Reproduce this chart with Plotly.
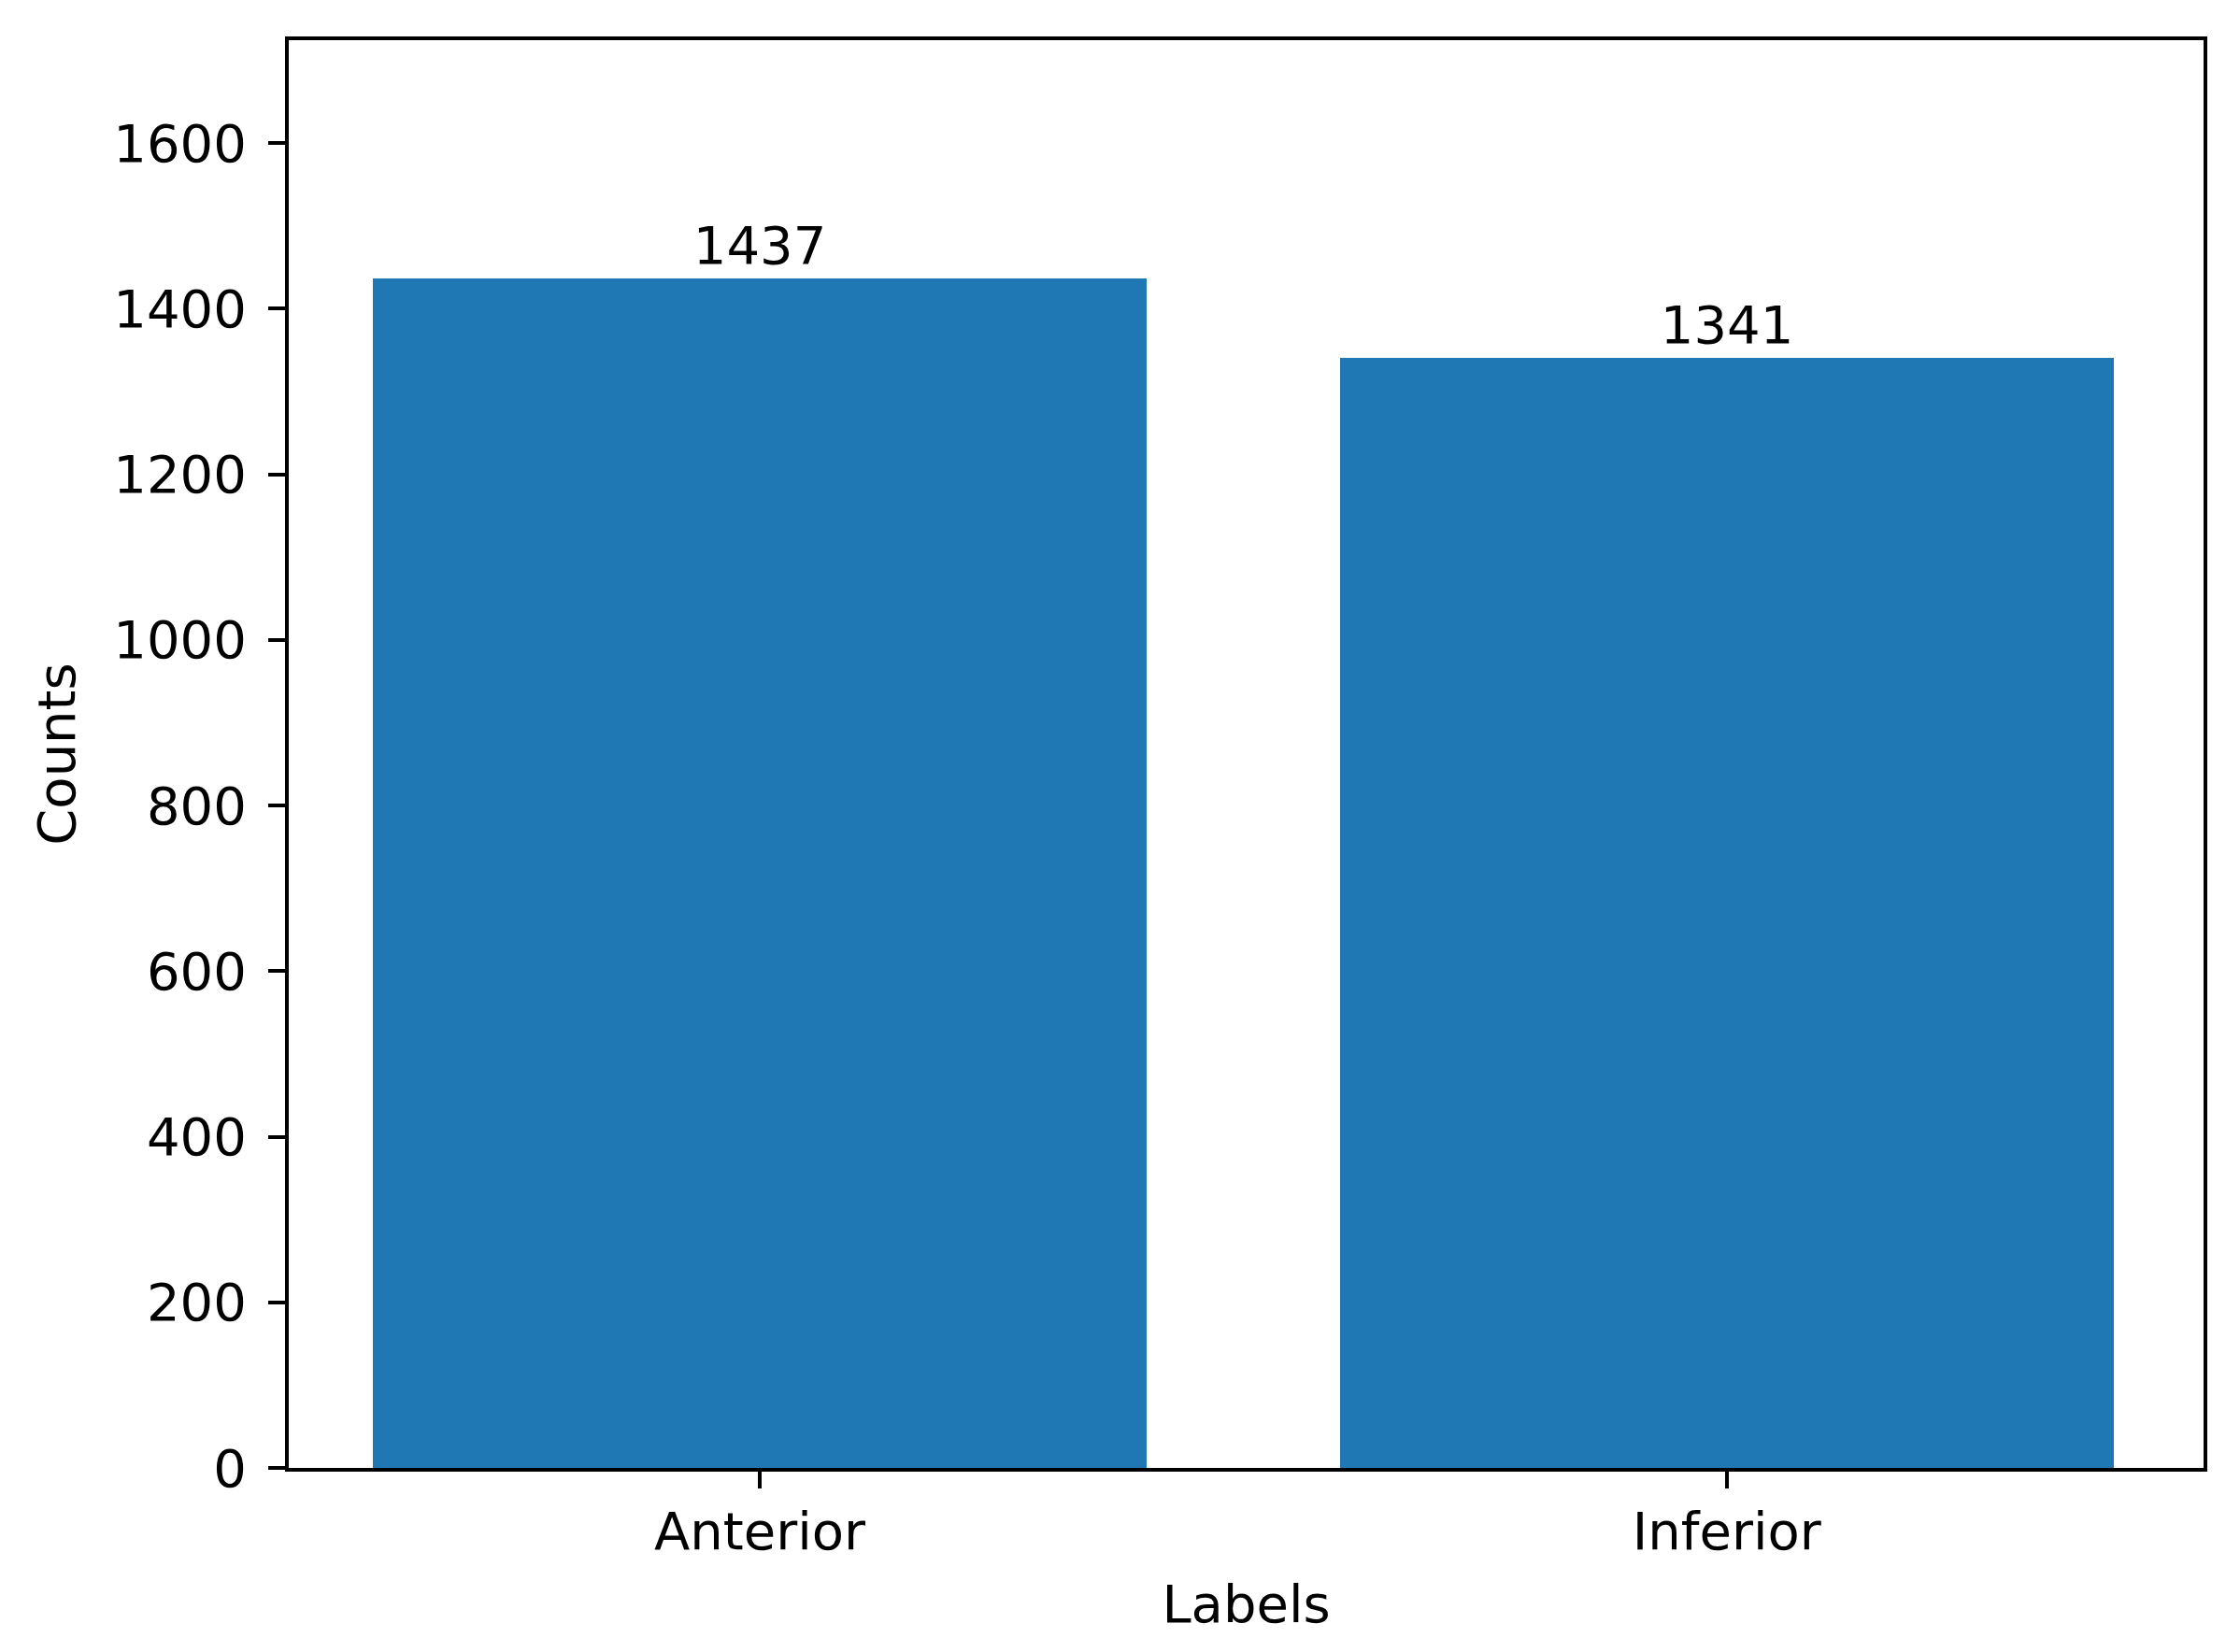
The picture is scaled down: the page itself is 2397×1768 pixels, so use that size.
import plotly.graph_objects as go

categories = ["Anterior", "Inferior"]
counts = [1437, 1341]
y_ticks = [0, 200, 400, 600, 800, 1000, 1200, 1400, 1600]

FONT = "DejaVu Sans"
FS = 56

fig = go.Figure()
fig.add_trace(go.Bar(
    x=[0, 1],
    y=counts,
    width=0.8,
    marker=dict(color="#1f77b4", line=dict(width=0)),
    text=[str(c) for c in counts],
    textposition="outside",
    textfont=dict(family=FONT, size=FS, color="black"),
    cliponaxis=False,
))

fig.update_layout(
    width=2389, height=1760,
    margin=dict(l=301, r=39, t=35, b=197),
    paper_bgcolor="white", plot_bgcolor="white",
    font=dict(family=FONT, size=FS, color="black"),
    showlegend=False,
    bargap=0,
)
fig.update_xaxes(
    range=[-0.487, 1.493],
    tickvals=[0, 1], ticktext=categories,
    ticks="outside", ticklen=18, tickwidth=4, tickcolor="black",
    showline=True, linewidth=4, linecolor="black", mirror=True,
    showgrid=False, zeroline=False,
    ticklabelstandoff=-2,
    title=dict(text="Labels", font=dict(family=FONT, size=FS), standoff=28),
)
fig.update_yaxes(
    range=[0, max(counts) * 1.2],
    tickvals=y_ticks, ticktext=[str(v) for v in y_ticks],
    ticks="outside", ticklen=18, tickwidth=4, tickcolor="black",
    showline=True, linewidth=4, linecolor="black", mirror=True,
    showgrid=False, zeroline=False,
    ticklabelstandoff=12,
    title=dict(text="Counts", font=dict(family=FONT, size=FS), standoff=24),
)

fig.write_html("out.html")
